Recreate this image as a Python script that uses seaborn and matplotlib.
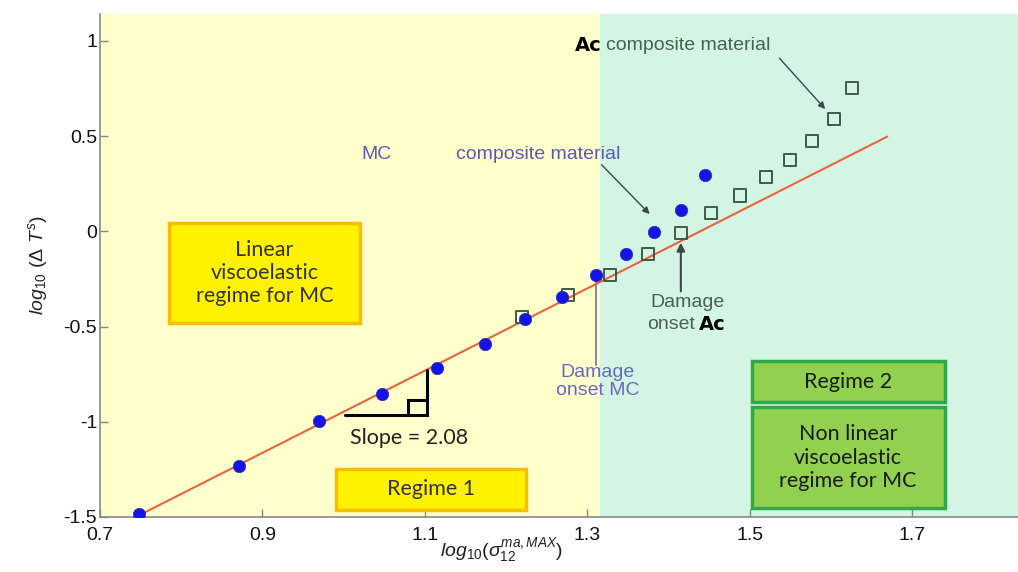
import matplotlib
matplotlib.use('Agg')
import matplotlib.pyplot as plt
from matplotlib.patches import Rectangle
import seaborn as sns
import pandas as pd

# MC composite material (blue dots)
mc_x = [0.748, 0.871, 0.970, 1.047, 1.115, 1.174, 1.223, 1.269, 1.310, 1.348, 1.382, 1.415, 1.445]
mc_y = [-1.487, -1.230, -0.995, -0.855, -0.718, -0.590, -0.461, -0.346, -0.230, -0.120, -0.005, 0.110, 0.293]

# Ac composite material (open squares)
ac_x = [1.219, 1.276, 1.328, 1.374, 1.415, 1.452, 1.488, 1.520, 1.549, 1.577, 1.603, 1.626]
ac_y = [-0.450, -0.335, -0.230, -0.120, -0.010, 0.094, 0.188, 0.283, 0.372, 0.476, 0.592, 0.754]

# linear fit (slope 2.08)
fit_x = [0.744, 1.669]
fit_y = [-1.500, 0.497]

regime_split = 1.315
xticks = [0.7, 0.9, 1.1, 1.3, 1.5, 1.7]
yticks = [-1.5, -1, -0.5, 0, 0.5, 1]
xtick_labels = ['0.7', '0.9', '1.1', '1.3', '1.5', '1.7']
ytick_labels = ['-1.5', '-1', '-0.5', '0', '0.5', '1']

sns.set_style('ticks')
plt.rcParams['font.family'] = ['Liberation Sans', 'DejaVu Sans']
plt.rcParams['mathtext.fontset'] = 'custom'
plt.rcParams['mathtext.rm'] = 'Liberation Sans'
plt.rcParams['mathtext.it'] = 'Liberation Sans:italic'
plt.rcParams['mathtext.bf'] = 'Liberation Sans:bold'

df_mc = pd.DataFrame({'x': mc_x, 'y': mc_y})
df_ac = pd.DataFrame({'x': ac_x, 'y': ac_y})
df_fit = pd.DataFrame({'x': fit_x, 'y': fit_y})

fig = plt.figure(figsize=(10.18, 5.72), dpi=100)
ax = fig.add_axes([0.0982, 0.0962, 0.9018, 0.879])

xmin, xmax = 0.7, 1.83
ymin, ymax = -1.5, 1.14
ax.axvspan(xmin, regime_split, color='#FFFFCC', zorder=0, lw=0)
ax.axvspan(regime_split, xmax, color='#D4F5E4', zorder=0, lw=0)

# boxes with labels
box_font = ['Lato', 'DejaVu Sans']
def label_box(x0, x1, y0, y1, text, face, edge, tcolor):
    ax.add_patch(Rectangle((x0, y0), x1 - x0, y1 - y0, facecolor=face,
                           edgecolor=edge, lw=2.5, zorder=2))
    ax.text((x0 + x1) / 2, (y0 + y1) / 2, text, ha='center', va='center',
            fontsize=15.5, color=tcolor, family=box_font, linespacing=1.2, zorder=3)

label_box(0.785, 1.020, -0.483, 0.046, 'Linear\nviscoelastic\nregime for MC',
          '#FFF200', '#F7BE00', '#333333')
label_box(0.990, 1.225, -1.463, -1.248, 'Regime 1', '#FFF200', '#F7BE00', '#333333')
label_box(1.502, 1.740, -0.897, -0.682, 'Regime 2', '#92D050', '#2FA84A', '#1a1a1a')
label_box(1.502, 1.740, -1.453, -0.923, 'Non linear\nviscoelastic\nregime for MC',
          '#92D050', '#2FA84A', '#1a1a1a')

sns.lineplot(data=df_fit, x='x', y='y', color='#E8643C', lw=1.5, ax=ax, zorder=3)
sns.scatterplot(data=df_ac, x='x', y='y', marker='s', s=75, facecolor='none',
                edgecolor='#3E5A48', linewidth=1.4, ax=ax, zorder=4)
sns.scatterplot(data=df_mc, x='x', y='y', marker='o', s=80, color='#1414E6',
                edgecolor='#3030B0', linewidth=0.5, ax=ax, zorder=5)

# slope triangle
ax.plot([1.002, 1.102, 1.102], [-0.965, -0.965, -0.730], color='black', lw=2.2,
        solid_joinstyle='miter', zorder=4)
ax.plot([1.079, 1.079, 1.102], [-0.965, -0.887, -0.887], color='black', lw=2.2,
        solid_joinstyle='miter', zorder=4)
ax.text(1.081, -1.085, 'Slope = 2.08', ha='center', va='center', fontsize=15.5,
        color='#222222', family=box_font)

# MC composite material annotation
mc_col = '#5A5AB4'
ax.text(1.040, 0.402, 'MC', ha='center', va='center', fontsize=14, color=mc_col)
ax.text(1.240, 0.402, 'composite material', ha='center', va='center', fontsize=14, color=mc_col)
ax.annotate('', xy=(1.379, 0.080), xytext=(1.315, 0.360),
            arrowprops=dict(arrowstyle='-|>', color='#3A4A42', lw=1.0, mutation_scale=10))

# Ac composite material annotation
ac_col = '#4A6050'
ax.text(1.318, 0.975, 'Ac', ha='right', va='center', fontsize=14, color='black',
        family='DejaVu Sans', weight='heavy')
ax.text(1.323, 0.975, 'composite material', ha='left', va='center', fontsize=14, color=ac_col)
ax.annotate('', xy=(1.595, 0.631), xytext=(1.534, 0.920),
            arrowprops=dict(arrowstyle='-|>', color='#3A4A42', lw=1.0, mutation_scale=10))

# damage onset MC
ax.plot([1.310, 1.310], [-0.265, -0.700], color='#8888A8', lw=1.5, zorder=2)
ax.text(1.313, -0.790, 'Damage\nonset MC', ha='center', va='center', fontsize=14,
        color='#6868C4', linespacing=1.05)

# damage onset Ac
ax.annotate('', xy=(1.415, -0.045), xytext=(1.415, -0.330),
            arrowprops=dict(arrowstyle='-|>', color='#3A4A42', lw=1.5, mutation_scale=12))
ax.text(1.423, -0.372, 'Damage', ha='center', va='center', fontsize=14, color=ac_col)
ax.text(1.403, -0.488, 'onset', ha='center', va='center', fontsize=14, color=ac_col)
ax.text(1.454, -0.488, 'Ac', ha='center', va='center', fontsize=14, color='black',
        family='DejaVu Sans', weight='heavy')

ax.set_xlim(xmin, xmax)
ax.set_ylim(ymin, ymax)
ax.set_xticks(xticks)
ax.set_xticklabels(xtick_labels)
ax.set_yticks(yticks)
ax.set_yticklabels(ytick_labels)
ax.tick_params(direction='in', length=6, width=1, colors='#888888', labelcolor='#111111',
               labelsize=14)
ax.tick_params(axis='y', pad=2)
ax.tick_params(axis='x', pad=7)
for side in ['top', 'right']:
    ax.spines[side].set_visible(False)
for side in ['left', 'bottom']:
    ax.spines[side].set_color('#888888')
    ax.spines[side].set_linewidth(1.2)

ax.set_xlabel(r'$log_{10}(\sigma_{12}^{ma,MAX})$', fontsize=14, color='#222222')
ax.xaxis.set_label_coords(0.437, -0.038)
ax.set_ylabel(r'$log_{10}\ (\Delta\ T^s)$', fontsize=14, labelpad=10, color='#222222')

fig.savefig('out.png', dpi=100)
